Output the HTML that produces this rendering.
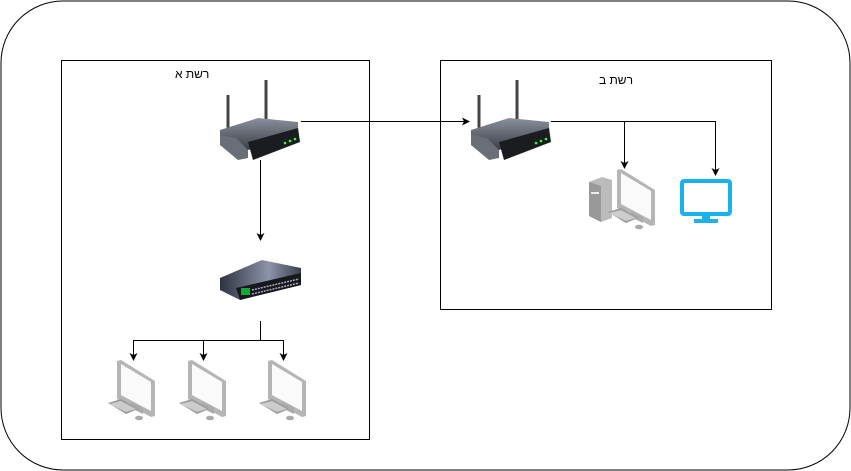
<!DOCTYPE html>
<html><head><meta charset="utf-8"><style>
html,body{margin:0;padding:0;background:#fff;}
svg{display:block;}
text{font-family:"Liberation Sans","DejaVu Sans",sans-serif;font-size:12px;}
</style></head><body>
<svg width="851" height="471" viewBox="0 0 851 471" xmlns="http://www.w3.org/2000/svg">
<defs>
<marker id="ar" markerWidth="8" markerHeight="8" refX="7" refY="4" orient="auto" markerUnits="userSpaceOnUse">
<path d="M0,0 L8,4 L0,8 L2,4 z" fill="#000"/>
</marker>
<linearGradient id="rg" x1="0" y1="0" x2="0" y2="1"><stop offset="0" stop-color="#8a909c"/><stop offset="1" stop-color="#3a3e46"/></linearGradient>
<linearGradient id="sg" x1="0" y1="0" x2="1" y2="0"><stop offset="0" stop-color="#2e3240"/><stop offset="0.6" stop-color="#8d94aa"/><stop offset="1" stop-color="#3a3f50"/></linearGradient>
<g id="router">
<line x1="10" y1="15" x2="10" y2="55" stroke="#444" stroke-width="3"/>
<line x1="48" y1="0" x2="48" y2="42" stroke="#444" stroke-width="3"/>
<polygon points="2,50 40,38 80,42 80,55 30,70 2,60" fill="url(#rg)"/>
<polygon points="2,55 18,58 30,70 30,78 20,80 2,65" fill="#6a6e78"/>
<polygon points="30,62 80,48 82,62 35,80" fill="#1b1c20"/>
<circle cx="67" cy="63" r="1.3" fill="#3f3"/><circle cx="72" cy="61" r="1.3" fill="#3f3"/><circle cx="77" cy="59" r="1.3" fill="#3f3"/>
</g>
<g id="pc">
<polygon points="0,0 4,-1 38,20 38,55 34,56 0,38" fill="#b5b5b5"/>
<polygon points="4,3 34,21 34,50 4,34" fill="#fafafa"/>
<polygon points="14,41 26,47 26,53 14,47" fill="#aaa"/>
<polygon points="-9,42 4,38 21,48 9,53" fill="#999"/>
<polygon points="-8,43 4,40 19,48 9,51" fill="#ccc"/>
<ellipse cx="22" cy="57" rx="4" ry="2.3" fill="#aaa"/>
</g>
</defs>
<rect x="1" y="1" width="849" height="469" rx="62" ry="62" fill="#fff" stroke="#000" stroke-width="1"/>
<rect x="61.5" y="60.5" width="308" height="379" fill="none" stroke="#000"/>
<rect x="440.5" y="60.5" width="331" height="249" fill="none" stroke="#000"/>
<text x="175" y="78">רשת א</text>
<text x="599" y="84">רשת ב</text>

<use href="#router" x="218" y="80"/>
<use href="#router" x="469" y="80"/>

<line x1="301" y1="121.5" x2="469" y2="121.5" stroke="#000" marker-end="url(#ar)"/>
<polyline points="551,121.5 715.5,121.5 715.5,175" fill="none" stroke="#000" marker-end="url(#ar)"/>
<line x1="624.5" y1="121.5" x2="624.5" y2="168" stroke="#000" marker-end="url(#ar)"/>
<line x1="260.5" y1="160" x2="260.5" y2="240" stroke="#000" marker-end="url(#ar)"/>
<polyline points="260.5,321 260.5,340.5 133.5,340.5 133.5,360" fill="none" stroke="#000" marker-end="url(#ar)"/>
<line x1="203.5" y1="340.5" x2="203.5" y2="360" stroke="#000" marker-end="url(#ar)"/>
<polyline points="260.5,340.5 283.5,340.5 283.5,360" fill="none" stroke="#000" marker-end="url(#ar)"/>

<!-- switch -->
<g>
<polygon points="220,278 262,260 301,268 301,285 240,300 220,290" fill="url(#sg)"/>
<polygon points="236,288 301,273 301,285 240,300" fill="#16181e"/>
<rect x="241" y="288" width="9" height="7" fill="#1a3"/>
<line x1="252" y1="290" x2="299" y2="279" stroke="#aab" stroke-width="1.5" stroke-dasharray="2,1"/>
<line x1="252" y1="294" x2="299" y2="283" stroke="#aab" stroke-width="1.5" stroke-dasharray="2,1"/>
</g>

<use href="#pc" x="117" y="361"/>
<use href="#pc" x="188" y="361"/>
<use href="#pc" x="268" y="361"/>

<!-- PC with tower -->
<g>
<polygon points="589,182 602,177 612,180 612,218 601,222 589,216" fill="#bbb"/>
<polygon points="589,182 601,186 601,222 589,216" fill="#999"/>
<rect x="591" y="192" width="8" height="2" fill="#eee"/>
<use href="#pc" x="617" y="170"/>
</g>
<!-- blue monitor -->
<g>
<rect x="682" y="181" width="48" height="33" rx="2" fill="none" stroke="#1ab2ee" stroke-width="4"/>
<rect x="702" y="214" width="8" height="6" fill="#1ab2ee"/>
<rect x="694" y="219" width="24" height="4" fill="#1ab2ee"/>
</g>
</svg>
</body></html>
